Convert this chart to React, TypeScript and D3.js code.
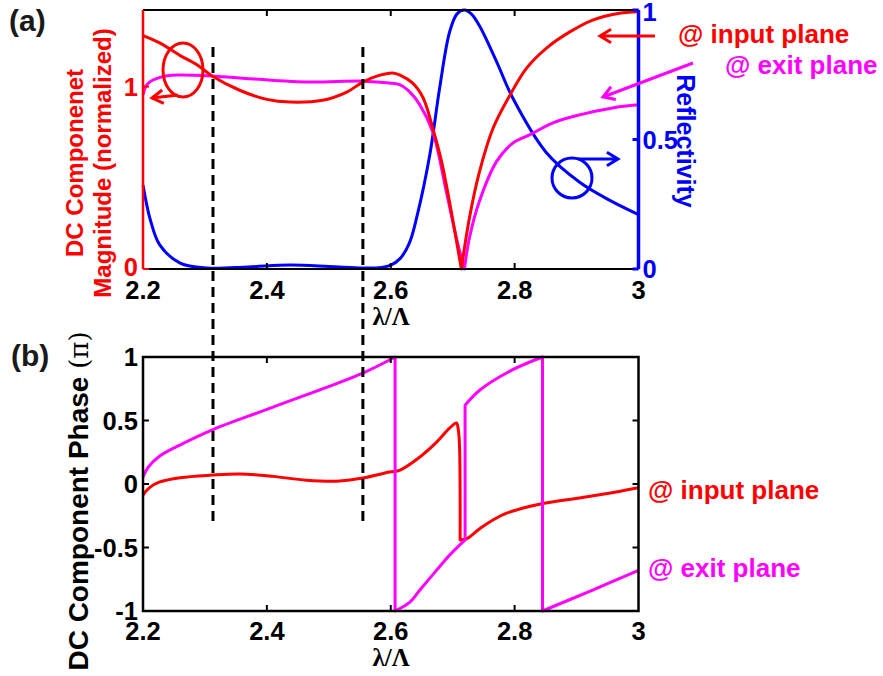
import React from 'react'
import * as d3 from 'd3'

// wavelength ratio (lambda / Lambda) tick values
const xTicks = [2.2, 2.4, 2.6, 2.8, 3]
const magTicks = [0, 1]
const reflTicks = [0, 0.5, 1]
const phaseTicks = [-1, -0.5, 0, 0.5, 1]
const markerLambdas = [2.313, 2.555]

// (a) DC component magnitude @ input plane (repeated lambda = sharp corner / jump)
const magInLam = [2.2, 2.227, 2.26, 2.287, 2.311, 2.356, 2.4, 2.437, 2.49, 2.529, 2.555, 2.58, 2.603, 2.615, 2.635, 2.652, 2.668, 2.682, 2.698, 2.714,
  2.714, 2.727, 2.743, 2.765, 2.792, 2.819, 2.851, 2.889, 2.926, 2.965, 3.0]
const magInVal = [1.28, 1.24, 1.17, 1.12, 1.06, 0.98, 0.93, 0.915, 0.925, 0.97, 1.025, 1.06, 1.075, 1.063, 1.02, 0.94, 0.77, 0.59, 0.31, 0,
  0, 0.28, 0.53, 0.77, 0.95, 1.1, 1.21, 1.3, 1.365, 1.4, 1.41]

// (a) DC component magnitude @ exit plane
const magExLam = [2.2, 2.206, 2.216, 2.239, 2.26, 2.311, 2.356, 2.464, 2.555, 2.598, 2.615, 2.631, 2.647, 2.668, 2.69, 2.706, 2.719,
  2.719, 2.727, 2.743, 2.771, 2.797, 2.824, 2.861, 2.905, 2.958, 3.0]
const magExVal = [0.954, 1.01, 1.036, 1.06, 1.064, 1.058, 1.047, 1.025, 1.03, 1.02, 1.01, 0.97, 0.9, 0.75, 0.42, 0.17, 0,
  0, 0.17, 0.37, 0.59, 0.69, 0.735, 0.8, 0.845, 0.883, 0.9]

// (a) reflectivity
const reflLam = [2.2, 2.205, 2.211, 2.227, 2.26, 2.303, 2.37, 2.437, 2.5, 2.555, 2.582, 2.6, 2.615, 2.63, 2.642, 2.663, 2.679, 2.695, 2.707, 2.719,
  2.73, 2.743, 2.771, 2.797, 2.851, 2.905, 2.95, 3.0]
const reflVal = [0.324, 0.26, 0.197, 0.093, 0.023, 0.004, 0.008, 0.015, 0.01, 0.004, 0.005, 0.015, 0.04, 0.1, 0.2, 0.44, 0.7, 0.915, 0.985, 1.0,
  0.985, 0.94, 0.8, 0.66, 0.45, 0.335, 0.27, 0.21]

// (b) DC component phase (pi) @ input plane
const phInLam = [2.2, 2.21, 2.227, 2.26, 2.311, 2.356, 2.41, 2.464, 2.518, 2.555, 2.598, 2.615, 2.647, 2.674, 2.695, 2.706, 2.709, 2.711, 2.712,
  2.712, 2.723, 2.744, 2.765, 2.787, 2.84, 2.905, 2.95, 3.0]
const phInVal = [-0.087, -0.03, 0.016, 0.05, 0.07, 0.079, 0.06, 0.03, 0.024, 0.047, 0.094, 0.11, 0.213, 0.33, 0.44, 0.48, 0.43, 0.3, -0.44,
  -0.44, -0.43, -0.35, -0.283, -0.23, -0.16, -0.11, -0.075, -0.03]

// (b) DC component phase (pi) @ exit plane
const phExLam = [2.2, 2.208, 2.227, 2.265, 2.311, 2.41, 2.555, 2.607,
  2.607, 2.631, 2.647, 2.679, 2.695, 2.72,
  2.72, 2.744, 2.797, 2.845,
  2.845, 2.926, 3.0]
const phExVal = [0.055, 0.13, 0.22, 0.32, 0.425, 0.606, 0.874, 1.0,
  -1, -0.93, -0.835, -0.65, -0.56, -0.44,
  0.62, 0.74, 0.9, 1.0,
  -1, -0.835, -0.68]

const RED = '#ff0000'
const MAG = '#ff00ff'
const BLUE = '#0000ff'
const FONT = '"Liberation Sans", Arial, sans-serif'
const GREEK = '"Liberation Serif", "DejaVu Serif", serif'

function pathFor(x: any, y: any, lam: number[], val: number[]) {
  // split into smooth pieces wherever a lambda value is repeated
  const segs: [number, number][][] = [[]]
  lam.forEach((l, i) => {
    if (i > 0 && l === lam[i - 1]) segs.push([])
    segs[segs.length - 1].push([l, val[i]])
  })
  const line = d3.line<[number, number]>().x(d => x(d[0])).y(d => y(d[1])).curve(d3.curveCatmullRom.alpha(0.5))
  return segs.map((s, i) => {
    const p = line(s) || ''
    return i === 0 ? p : 'L' + p.slice(1)
  }).join('')
}

function arrow(x1: number, y1: number, x2: number, y2: number) {
  // line from (x1,y1) with an open head at (x2,y2)
  const a = Math.atan2(y2 - y1, x2 - x1)
  const L = 13, w = 0.55
  const h1 = [x2 - L * Math.cos(a - w), y2 - L * Math.sin(a - w)]
  const h2 = [x2 - L * Math.cos(a + w), y2 - L * Math.sin(a + w)]
  return `M${x1},${y1}L${x2},${y2}M${h1[0]},${h1[1]}L${x2},${y2}L${h2[0]},${h2[1]}`
}

export default function App() {
  const left = 143, right = 638.5
  const aTop = 10, aBot = 269
  const bTop = 357, bBot = 611

  const x = d3.scaleLinear().domain([2.2, 3]).range([left, right])
  const yMag = d3.scaleLinear().domain([0, 1.42]).range([aBot, aTop])
  const yRefl = d3.scaleLinear().domain([0, 1]).range([aBot, aTop])
  const yPh = d3.scaleLinear().domain([-1, 1]).range([bBot, bTop])

  const tick = 6
  const lblStyle = { fontFamily: FONT, fontWeight: 'bold' as const, fontSize: 25.5 }

  return (
    <svg width={883} height={676} style={{ position: 'absolute', left: 0, top: 0, background: '#fff' }}>
      <rect width={883} height={676} fill="#fff" />

      {/* ---------- panel (a) ---------- */}
      <g fill="none" strokeWidth={3} strokeLinejoin="round">
        <path d={pathFor(x, yRefl, reflLam, reflVal)} stroke={BLUE} />
        <path d={pathFor(x, yMag, magExLam, magExVal)} stroke={MAG} />
        <path d={pathFor(x, yMag, magInLam, magInVal)} stroke={RED} />
      </g>
      <line x1={left} x2={right} y1={aTop} y2={aTop} stroke="#000" strokeWidth={2} />
      <line x1={left} x2={right} y1={aBot} y2={aBot} stroke="#000" strokeWidth={2} />
      {xTicks.slice(1, -1).map(t => (
        <g key={'at' + t} stroke="#000" strokeWidth={2}>
          <line x1={x(t)} x2={x(t)} y1={aTop} y2={aTop + tick} />
          <line x1={x(t)} x2={x(t)} y1={aBot} y2={aBot - tick} />
        </g>
      ))}
      <line x1={left} x2={left} y1={aTop} y2={aBot} stroke={RED} strokeWidth={2.5} />
      <line x1={right} x2={right} y1={aTop} y2={aBot} stroke={BLUE} strokeWidth={3.5} />
      {magTicks.map(t => (
        <g key={'am' + t}>
          <line x1={left} x2={left + tick} y1={yMag(t)} y2={yMag(t)} stroke={RED} strokeWidth={2} />
          <text x={left - 5} y={yMag(t) - (t === 0 ? 2 : 0)} dy="0.36em" textAnchor="end" fill={RED} {...lblStyle}>{t}</text>
        </g>
      ))}
      {reflTicks.map(t => (
        <g key={'ar' + t}>
          <line x1={right} x2={right - tick} y1={yRefl(t)} y2={yRefl(t)} stroke={BLUE} strokeWidth={3} />
          <text x={right + 4} y={yRefl(t) + (t === 1 ? 2 : 0)} dy="0.36em" textAnchor="start" fill={BLUE} {...lblStyle}>{t}</text>
        </g>
      ))}
      {xTicks.map(t => (
        <text key={'axl' + t} x={x(t)} y={299} textAnchor="middle" fill="#000" {...lblStyle}>{t}</text>
      ))}
      <text x={391} y={325} textAnchor="middle" fill="#000" fontFamily={GREEK} fontWeight="bold" fontSize={25}>λ/Λ</text>

      <text transform="translate(83,163) rotate(-90)" textAnchor="middle" fill={RED} fontFamily={FONT} fontWeight="bold" fontSize={24}>DC Componenet</text>
      <text transform="translate(111,163) rotate(-90)" textAnchor="middle" fill={RED} fontFamily={FONT} fontWeight="bold" fontSize={24}>Magnitude (normalized)</text>
      <text transform="translate(677,141) rotate(90)" textAnchor="middle" fill={BLUE} fontFamily={FONT} fontWeight="bold" fontSize={25}>Reflectivity</text>

      {/* axis markers */}
      <g fill="none" strokeWidth={3}>
        <ellipse cx={183} cy={70} rx={20} ry={27} stroke={RED} />
        <path d={arrow(178, 95, 152, 98)} stroke={RED} />
        <circle cx={572} cy={178} r={20} stroke={BLUE} />
        <path d={arrow(578, 159, 618, 159)} stroke={BLUE} />
        <path d={arrow(655, 36, 600, 36)} stroke={RED} />
        <path d={arrow(693, 63, 603, 97)} stroke={MAG} />
      </g>
      <text x={678} y={43} fill={RED} fontFamily={FONT} fontWeight="bold" fontSize={26}>@ input plane</text>
      <text x={725} y={74} fill={MAG} fontFamily={FONT} fontWeight="bold" fontSize={26}>@ exit plane</text>
      <text x={9} y={31} fill="#1a1a1a" fontFamily={FONT} fontWeight="bold" fontSize={30}>(a)</text>

      {/* ---------- panel (b) ---------- */}
      <g fill="none" strokeWidth={3} strokeLinejoin="round">
        <path d={pathFor(x, yPh, phInLam, phInVal)} stroke={RED} />
        <path d={pathFor(x, yPh, phExLam, phExVal)} stroke={MAG} />
      </g>
      <rect x={left} y={bTop} width={right - left} height={bBot - bTop} fill="none" stroke="#000" strokeWidth={2.5} />
      {xTicks.slice(1, -1).map(t => (
        <g key={'bt' + t} stroke="#000" strokeWidth={2}>
          <line x1={x(t)} x2={x(t)} y1={bTop} y2={bTop + tick} />
          <line x1={x(t)} x2={x(t)} y1={bBot} y2={bBot - tick} />
        </g>
      ))}
      {phaseTicks.map(t => (
        <g key={'bp' + t}>
          <line x1={left} x2={left + tick} y1={yPh(t)} y2={yPh(t)} stroke="#000" strokeWidth={2} />
          <line x1={right} x2={right - tick} y1={yPh(t)} y2={yPh(t)} stroke="#000" strokeWidth={2} />
          <text x={left - 5} y={yPh(t)} dy="0.36em" textAnchor="end" fill="#000" {...lblStyle}>{t}</text>
        </g>
      ))}
      {xTicks.map(t => (
        <text key={'bxl' + t} x={x(t)} y={640} textAnchor="middle" fill="#000" {...lblStyle}>{t}</text>
      ))}
      <text x={391} y={666} textAnchor="middle" fill="#000" fontFamily={GREEK} fontWeight="bold" fontSize={25}>λ/Λ</text>
      <text transform="translate(88,501) rotate(-90)" textAnchor="middle" fill="#000" fontFamily={FONT} fontWeight="bold" fontSize={28}>
        DC Component Phase <tspan fontWeight="normal" fontFamily='"DejaVu Serif", serif' fontSize={26}>(π)</tspan>
      </text>
      <text x={648} y={499} fill={RED} fontFamily={FONT} fontWeight="bold" fontSize={26}>@ input plane</text>
      <text x={648} y={577} fill={MAG} fontFamily={FONT} fontWeight="bold" fontSize={26}>@ exit plane</text>
      <text x={11} y={366} fill="#1a1a1a" fontFamily={FONT} fontWeight="bold" fontSize={30}>(b)</text>

      {/* dashed guide lines across both panels */}
      {markerLambdas.map(l => (
        <line key={'dl' + l} x1={x(l)} x2={x(l)} y1={47} y2={521} stroke="#000" strokeWidth={3} strokeDasharray="10,6" />
      ))}
    </svg>
  )
}
